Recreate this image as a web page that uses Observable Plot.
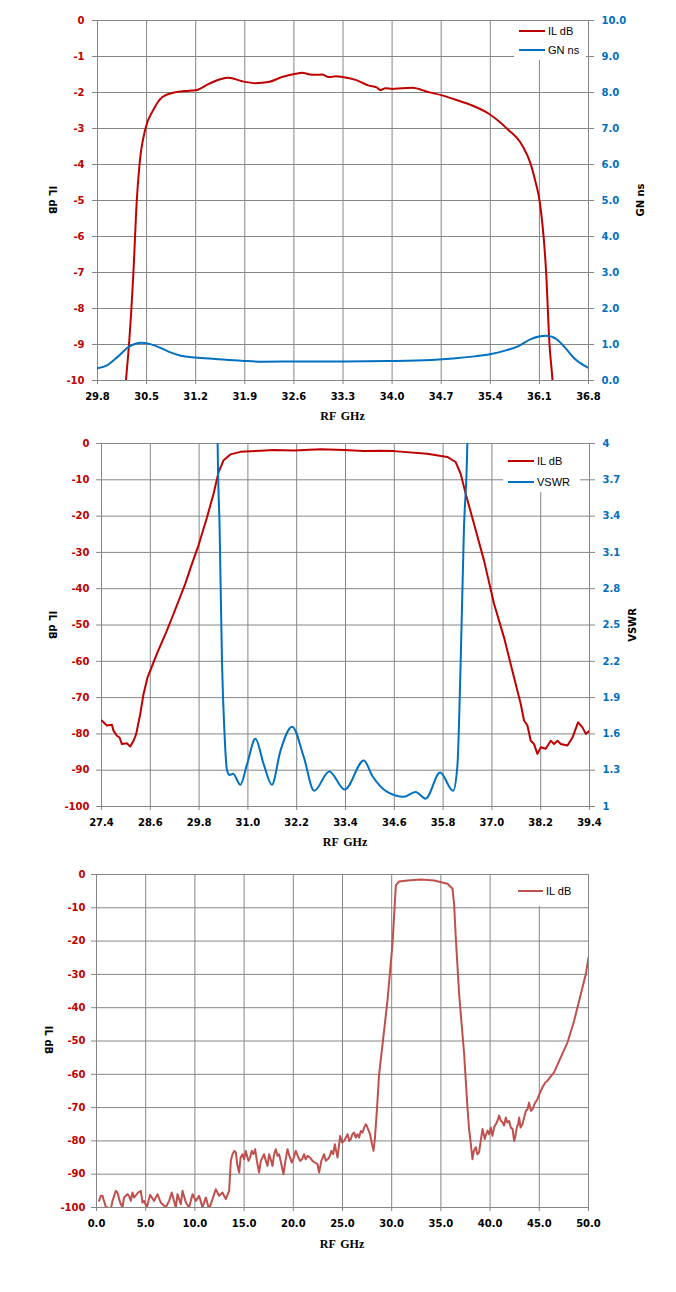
<!DOCTYPE html>
<html>
<head>
<meta charset="utf-8">
<script src="https://cdn.jsdelivr.net/npm/d3@7"></script>
<script src="https://cdn.jsdelivr.net/npm/@observablehq/plot@0.6"></script>
<style>
  html, body { margin: 0; padding: 0; background: #fff; }
  #root { position: relative; width: 676px; height: 1292px; overflow: hidden; }
  .chart { position: absolute; left: 0; width: 676px; }
  .title { position: absolute; white-space: nowrap; font-family: "DejaVu Sans", sans-serif; font-weight: bold; font-size: 10px; color: #000; }
  .xtitle { position: absolute; white-space: nowrap; font-family: "Liberation Serif", serif; font-weight: bold; font-size: 12px; color: #000; word-spacing: 2px; transform: translate(-50%, -50%); }
  .legend { position: absolute; background: #fff; }
  .legend .ln { position: absolute; height: 2px; }
  .legend .lt { position: absolute; font-family: "Liberation Sans", sans-serif; font-size: 11px; color: #000; line-height: 12px; }
</style>
</head>
<body>
<div id="root"></div>
<script>
// ---------- Chart 1: passband IL (dB) and group delay GN (ns) ----------
const c1Ticks = [29.8, 30.5, 31.2, 31.9, 32.6, 33.3, 34.0, 34.7, 35.4, 36.1, 36.8];
const c1LeftTicks = [0, -1, -2, -3, -4, -5, -6, -7, -8, -9, -10];
const c1RightLabels = ["0.0", "1.0", "2.0", "3.0", "4.0", "5.0", "6.0", "7.0", "8.0", "9.0", "10.0"];
const c1ILFreq = [30.19, 30.206, 30.249, 30.312, 30.36, 30.399, 30.484, 30.591, 30.722, 30.912, 31.05, 31.197, 31.387, 31.55, 31.672, 31.863, 32.053, 32.238, 32.433, 32.623, 32.718, 32.81, 32.908, 33.0, 33.098, 33.2, 33.289, 33.478, 33.668, 33.78, 33.835, 33.906, 34.0, 34.144, 34.287, 34.523, 34.714, 34.904, 35.142, 35.379, 35.641, 35.855, 35.973, 36.045, 36.102, 36.196, 36.244, 36.287, 36.3];
const c1IL = [-10.4, -10, -9, -7, -5, -4, -3, -2.5, -2.13, -1.99, -1.96, -1.94, -1.76, -1.63, -1.59, -1.69, -1.74, -1.71, -1.57, -1.48, -1.45, -1.49, -1.51, -1.5, -1.57, -1.55, -1.57, -1.65, -1.81, -1.86, -1.93, -1.88, -1.9, -1.88, -1.87, -1.99, -2.08, -2.2, -2.36, -2.59, -3.01, -3.47, -3.97, -4.49, -5.0, -7, -9, -10, -10.4];
const c1GNFreq = [29.8, 29.943, 30.095, 30.249, 30.434, 30.62, 30.804, 30.989, 31.193, 31.482, 31.853, 32.16, 32.714, 33.33, 33.949, 34.562, 34.87, 35.175, 35.395, 35.61, 35.795, 35.979, 36.196, 36.35, 36.472, 36.596, 36.8];
const c1GN = [0.34, 0.43, 0.67, 0.94, 1.05, 0.97, 0.81, 0.69, 0.64, 0.60, 0.55, 0.52, 0.53, 0.53, 0.54, 0.57, 0.61, 0.67, 0.73, 0.83, 0.95, 1.15, 1.24, 1.14, 0.90, 0.62, 0.35];
const c1GNDomain = [0, 10];

// ---------- Chart 2: wideband IL (dB) and VSWR ----------
const c2Ticks = [27.4, 28.6, 29.8, 31.0, 32.2, 33.4, 34.6, 35.8, 37.0, 38.2, 39.4];
const c2LeftTicks = [0, -10, -20, -30, -40, -50, -60, -70, -80, -90, -100];
const c2RightLabels = ["1", "1.3", "1.6", "1.9", "2.2", "2.5", "2.8", "3.1", "3.4", "3.7", "4"];
const c2ILFreq = [27.4, 27.449, 27.533, 27.656, 27.695, 27.779, 27.843, 27.902, 28.025, 28.107, 28.188, 28.254, 28.353, 28.434, 28.533, 28.764, 29.01, 29.173, 29.461, 29.626, 29.773, 29.995, 30.157, 30.281, 30.404, 30.569, 30.815, 31.307, 31.635, 32.127, 32.784, 33.358, 33.85, 34.262, 34.589, 35.411, 35.904, 36.108, 36.231, 36.354, 36.559, 36.805, 37.051, 37.297, 37.543, 37.708, 37.79, 37.873, 37.955, 38.036, 38.119, 38.201, 38.324, 38.447, 38.528, 38.612, 38.693, 38.858, 38.981, 39.119, 39.227, 39.309, 39.4];
const c2IL = [-76.3, -76.8, -77.7, -77.5, -79.1, -80.5, -81, -82.8, -82.6, -83.5, -81.9, -80, -74.5, -69, -64.4, -57.9, -51.5, -46.9, -38.6, -33.1, -28.5, -20.3, -13.8, -7.8, -4.6, -3.0, -2.3, -2.0, -1.8, -1.9, -1.6, -1.8, -2.1, -2.0, -2.1, -2.8, -3.7, -5.1, -8.3, -13.8, -22.1, -32.2, -44.1, -53.4, -64.4, -71.7, -76.3, -77.7, -81.9, -82.8, -85.5, -83.7, -84.1, -81.9, -82.8, -81.9, -82.8, -83.2, -81, -76.8, -78.2, -80, -79.1];
const c2VSFreq = [30.24, 30.256, 30.305, 30.364, 30.421, 30.487, 30.551, 30.635, 30.815, 30.98, 31.184, 31.388, 31.59, 31.8, 32.088, 32.373, 32.629, 33.001, 33.38, 33.85, 34.065, 34.427, 34.835, 35.123, 35.37, 35.727, 36.047, 36.15, 36.231, 36.312, 36.396, 36.41];
const c2VSWR = [4.6, 4.0, 3.29, 2.18, 1.63, 1.30, 1.26, 1.27, 1.18, 1.35, 1.56, 1.35, 1.18, 1.46, 1.66, 1.41, 1.13, 1.29, 1.14, 1.38, 1.25, 1.12, 1.08, 1.12, 1.065, 1.28, 1.13, 1.33, 2.18, 3.29, 4.0, 4.6];
const c2VSDomain = [1, 4];

// ---------- Chart 3: broadband IL (dB) 0-50 GHz ----------
const c3Ticks = [0, 5, 10, 15, 20, 25, 30, 35, 40, 45, 50];
const c3LeftTicks = [0, -10, -20, -30, -40, -50, -60, -70, -80, -90, -100];
const c3Freq = [0.26, 0.44, 0.61, 0.71, 0.95, 1.12, 1.45, 1.63, 1.96, 2.13, 2.40, 2.64, 2.80, 3.15, 3.31, 3.49, 3.66, 3.82, 4.23, 4.50, 4.67, 4.84, 5.11, 5.45, 5.85, 6.20, 6.53, 7.04, 7.38, 7.65, 8.06, 8.23, 8.57, 8.74, 9.08, 9.41, 9.76, 10.09, 10.43, 10.77, 11.11, 11.44, 11.79, 12.12, 12.46, 12.80, 13.14, 13.48,
  13.65, 13.82, 14.0, 14.16, 14.3, 14.49, 14.65, 14.84, 15.0, 15.17, 15.3, 15.45, 15.6, 15.78, 15.95, 16.12, 16.3, 16.52, 16.7, 16.87, 17.03, 17.21, 17.38, 17.54, 17.7, 17.89, 18.05, 18.22, 18.4, 18.56, 18.75, 19.0, 19.2, 19.41, 19.6, 19.85, 20.05, 20.25, 20.45, 20.69, 20.9, 21.1, 21.25, 21.44, 21.7, 21.95, 22.2, 22.46, 22.62, 22.85, 23.13, 23.3, 23.48, 23.64, 23.88, 24.05, 24.22, 24.35, 24.49, 24.62, 24.76, 24.95, 25.16, 25.34, 25.51, 25.7, 25.84, 26.0, 26.18, 26.35, 26.52, 26.69, 26.86, 27.05, 27.2, 27.37, 27.47, 27.6, 27.8, 28.0, 28.15, 28.3, 28.49,
  28.72, 29.07, 29.57, 30.08, 30.42, 30.75, 31.61, 32.96, 34.31, 35.67, 36.18, 36.34, 36.51, 36.85, 37.36, 37.70,
  37.85, 38.04, 38.21, 38.35, 38.55, 38.7, 38.88, 39.05, 39.23, 39.35, 39.46, 39.6, 39.74, 39.9, 40.07, 40.24, 40.4, 40.58, 40.75, 40.91, 41.1, 41.26, 41.42, 41.6, 41.75, 41.93, 42.1, 42.28, 42.44, 42.54, 42.71, 42.85, 42.95, 43.1, 43.29, 43.46, 43.63, 43.8, 43.96, 44.15, 44.31, 44.5, 44.82, 45.0, 45.33, 45.6, 45.83, 46.2, 46.5, 47.18, 47.87, 48.54, 49.22, 49.73, 50.0];
const c3IL = [-98, -96.5, -96.5, -97.5, -99.8, -100, -100.5, -98, -95, -95.5, -98.5, -100, -97, -96, -96.5, -98, -95.5, -97, -95.5, -95, -98.5, -98, -100, -96.2, -98, -96, -98.5, -100, -98, -95.5, -100, -96, -99, -95, -98.5, -100, -96, -98, -96.5, -100, -97, -100.5, -97.5, -94.5, -96.5, -95.5, -97.5, -95,
  -86, -84, -83, -83.5, -87, -89.5, -85, -84, -85.5, -83, -84.5, -86, -85, -83, -84, -82.5, -86, -89.5, -86, -85, -84, -86, -87.5, -84, -85.5, -87.5, -84, -82.5, -84.5, -84, -86.5, -90, -86, -82.5, -84.5, -86.5, -85, -83, -84.5, -86, -85.5, -84, -85.5, -84.5, -85, -86, -86.5, -87, -89.5, -86, -84, -86, -85.5, -85, -83, -84, -81, -83, -85, -82, -78.5, -80.5, -80, -79, -78, -80, -79.5, -78, -77.5, -79, -78, -79, -77, -77.5, -76, -75, -75.5, -76.5, -78, -81, -83, -79, -71,
  -60, -51, -37.9, -20.8, -3.3, -2.1, -1.8, -1.5, -1.8, -2.8, -4.3, -8.8, -18.8, -35.8, -53.9, -70,
  -76, -80.9, -85.5, -83, -81.9, -84, -83.4, -80, -76.4, -78, -79.4, -78, -76.9, -78, -76, -78.5, -76, -75, -74, -72.4, -74, -74.4, -75.4, -73, -74.5, -74, -76, -76.4, -80, -79, -76, -75, -73, -76, -75, -73, -71, -70.5, -68.5, -71, -70.5, -69, -67.4, -66, -63.9, -62.5, -61.9, -60.5, -59.4, -54.9, -50.4, -43.9, -35.9, -29.9, -25];

const RED = "#C00000", BLUE = "#0070C0", RED3 = "#C0504D", GRID = "#868686";

const root = document.getElementById("root");

function zip(fs, vs, map) { return fs.map((f, i) => ({f, v: map ? map(vs[i]) : vs[i]})); }

function addChart({top, height, mL, mR, mT, mB, xTicks, xFmt, xDomain, yTicks, yDomain, rightLabels, padL, series, titles, legend}) {
  const div = document.createElement("div");
  div.className = "chart";
  div.style.top = top + "px";
  root.appendChild(div);
  const marks = [
    Plot.gridX(xTicks, {stroke: GRID, strokeOpacity: 1}),
    Plot.gridY(yTicks, {stroke: GRID, strokeOpacity: 1}),
    Plot.axisX(xTicks, {tickFormat: xFmt, tickSize: 4, tickPadding: 8, stroke: GRID, fill: "#000", label: null}),
    Plot.axisY(yTicks, {anchor: "left", tickFormat: d => String(d), tickSize: 5, tickPadding: padL, stroke: GRID, fill: RED, label: null})
  ];
  if (rightLabels) {
    const rt = yTicks.slice().sort((a, b) => a - b);
    marks.push(Plot.axisY(rt, {anchor: "right", tickFormat: d => rightLabels[rt.indexOf(d)], tickSize: 5, tickPadding: 8, stroke: GRID, fill: BLUE, label: null}));
  }
  for (const s of series) {
    marks.push(Plot.line(s.data, {x: "f", y: "v", stroke: s.color, strokeWidth: 2, curve: s.curve || "linear", clip: true}));
  }
  const svg = Plot.plot({
    width: 676, height,
    marginLeft: mL, marginRight: mR, marginTop: mT, marginBottom: mB,
    x: {domain: xDomain, label: null},
    y: {domain: yDomain, label: null},
    style: {fontFamily: "DejaVu Sans, sans-serif", fontSize: "10px", fontWeight: "bold", background: "transparent"},
    marks
  });
  div.appendChild(svg);
  for (const t of titles) {
    const el = document.createElement("div");
    el.className = t.serif ? "xtitle" : "title";
    el.textContent = t.text;
    el.style.left = t.x + "px";
    el.style.top = t.y + "px";
    if (!t.serif) el.style.transform = `translate(-50%, -50%) rotate(${t.rot}deg)`;
    div.appendChild(el);
  }
  const lg = document.createElement("div");
  lg.className = "legend";
  Object.assign(lg.style, {left: legend.x + "px", top: legend.y + "px", width: legend.w + "px", height: legend.h + "px"});
  for (const e of legend.entries) {
    const ln = document.createElement("div");
    ln.className = "ln";
    Object.assign(ln.style, {left: (e.x0 - legend.x) + "px", width: (e.x1 - e.x0) + "px", top: (e.y - legend.y - 1) + "px", background: e.color});
    const lt = document.createElement("div");
    lt.className = "lt";
    lt.textContent = e.label;
    Object.assign(lt.style, {left: (e.x1 + 3 - legend.x) + "px", top: (e.y - legend.y - 6) + "px"});
    lg.appendChild(ln); lg.appendChild(lt);
  }
  div.appendChild(lg);
}

// Chart 1
const gnToY = d3.scaleLinear(c1GNDomain, [-10, 0]);
addChart({
  top: 0, height: 430, mL: 97, mR: 88, mT: 20, mB: 50,
  xTicks: c1Ticks, xFmt: d => d.toFixed(1), xDomain: [29.8, 36.8],
  yTicks: c1LeftTicks, yDomain: [-10, 0], rightLabels: c1RightLabels, padL: 8,
  series: [
    {data: zip(c1ILFreq, c1IL), color: RED, curve: "monotone-x"},
    {data: zip(c1GNFreq, c1GN, gnToY), color: BLUE, curve: "monotone-x"}
  ],
  titles: [
    {text: "IL dB", x: 52, y: 200, rot: 90},
    {text: "GN ns", x: 640, y: 200, rot: -90},
    {text: "RF GHz", x: 342.5, y: 416, serif: true}
  ],
  legend: {x: 514, y: 21, w: 72, h: 39, entries: [
    {label: "IL dB", color: RED, x0: 519, x1: 545, y: 31},
    {label: "GN ns", color: BLUE, x0: 519, x1: 545, y: 50}
  ]}
});

// Chart 2
const vsToY = d3.scaleLinear(c2VSDomain, [-100, 0]);
addChart({
  top: 430, height: 426, mL: 101, mR: 87, mT: 13, mB: 50,
  xTicks: c2Ticks, xFmt: d => d.toFixed(1), xDomain: [27.4, 39.4],
  yTicks: c2LeftTicks, yDomain: [-100, 0], rightLabels: c2RightLabels, padL: 7,
  series: [
    {data: zip(c2ILFreq, c2IL), color: RED},
    {data: zip(c2VSFreq, c2VSWR, vsToY), color: BLUE, curve: "monotone-x"}
  ],
  titles: [
    {text: "IL dB", x: 52, y: 195, rot: 90},
    {text: "VSWR", x: 632, y: 195, rot: -90},
    {text: "RF GHz", x: 345, y: 412, serif: true}
  ],
  legend: {x: 503, y: 14, w: 77, h: 48, entries: [
    {label: "IL dB", color: RED, x0: 508, x1: 534, y: 31},
    {label: "VSWR", color: BLUE, x0: 508, x1: 534, y: 52}
  ]}
});

// Chart 3
addChart({
  top: 860, height: 402, mL: 96, mR: 88, mT: 14, mB: 55,
  xTicks: c3Ticks, xFmt: d => d.toFixed(1), xDomain: [0, 50],
  yTicks: c3LeftTicks, yDomain: [-100, 0], rightLabels: null, padL: 6,
  series: [
    {data: zip(c3Freq, c3IL), color: RED3}
  ],
  titles: [
    {text: "IL dB", x: 48, y: 180, rot: 90},
    {text: "RF GHz", x: 342, y: 384, serif: true}
  ],
  legend: {x: 511, y: 15, w: 75, h: 31, entries: [
    {label: "IL dB", color: RED3, x0: 518, x1: 543, y: 31}
  ]}
});
</script>
</body>
</html>
